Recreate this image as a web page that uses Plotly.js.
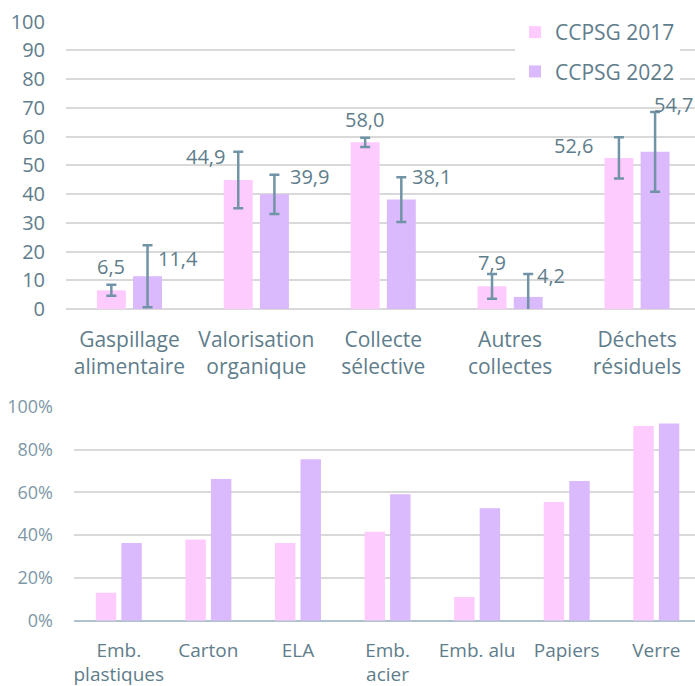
<!DOCTYPE html>
<html>
<head>
<meta charset="utf-8">
<script src="https://cdn.plot.ly/plotly-3.0.1.min.js"></script>
<style>
html,body{margin:0;padding:0;background:#fff;overflow:hidden;}
#chart{width:695px;height:686px;}
</style>
</head>
<body>
<div id="chart"></div>
<script>
// ---- Data ----
const seriesNames = ['CCPSG 2017', 'CCPSG 2022'];

const topCategories = ['Gaspillage<br>alimentaire', 'Valorisation<br>organique', 'Collecte<br>sélective', 'Autres<br>collectes', 'Déchets<br>résiduels'];
const top2017 = [6.5, 44.9, 58.0, 7.9, 52.6];
const top2022 = [11.4, 39.9, 38.1, 4.2, 54.7];
const topErr2017 = [1.9, 9.8, 1.6, 4.3, 7.2];
const topErr2022 = [10.8, 6.8, 7.8, 8.0, 13.9];
const topLabels2017 = ['6,5', '44,9', '58,0', '7,9', '52,6'];
const topLabels2022 = ['11,4', '39,9', '38,1', '4,2', '54,7'];
const topTicks = [0, 10, 20, 30, 40, 50, 60, 70, 80, 90, 100];

const bottomCategories = ['Emb.<br>plastiques', 'Carton', 'ELA', 'Emb.<br>acier', 'Emb. alu', 'Papiers', 'Verre'];
const bottom2017 = [0.131, 0.380, 0.363, 0.416, 0.111, 0.555, 0.910];
const bottom2022 = [0.363, 0.662, 0.754, 0.591, 0.525, 0.653, 0.922];
const bottomTicks = [0, 0.2, 0.4, 0.6, 0.8, 1.0];

// ---- Styles ----
const pink = '#FDCBFD';
const purple = '#DAB9FC';
const textColor = '#607D8B';
const errColor = '#7193A6';
const gridColor = '#D9D9D9';
const font = 'Open Sans, sans-serif';
// label offsets (px) relative to the top of each error bar: [dx, dy]
const labelOffsets2017 = [[0, -18], [-33, 5], [-1, -18], [0, -11], [-46, 8]];
const labelOffsets2022 = [[31, 13], [35, 2], [30, -1], [23, 2], [18, -7]];
const barShift = 18;

const traces = [
  {type: 'bar', name: seriesNames[0], x: topCategories, y: top2017, marker: {color: pink},
   error_y: {type: 'data', array: topErr2017, visible: true, color: errColor, thickness: 2.5, width: 5},
   xaxis: 'x', yaxis: 'y', legendgroup: 'a', hoverinfo: 'skip'},
  {type: 'bar', name: seriesNames[1], x: topCategories, y: top2022, marker: {color: purple},
   error_y: {type: 'data', array: topErr2022, visible: true, color: errColor, thickness: 2.5, width: 5},
   xaxis: 'x', yaxis: 'y', legendgroup: 'b', hoverinfo: 'skip'},
  {type: 'bar', name: seriesNames[0], x: bottomCategories, y: bottom2017, marker: {color: pink},
   xaxis: 'x2', yaxis: 'y2', showlegend: false, legendgroup: 'a', hoverinfo: 'skip'},
  {type: 'bar', name: seriesNames[1], x: bottomCategories, y: bottom2022, marker: {color: purple},
   xaxis: 'x2', yaxis: 'y2', showlegend: false, legendgroup: 'b', hoverinfo: 'skip'}
];

const annotations = [];
topCategories.forEach((c, i) => {
  [[top2017, topErr2017, topLabels2017, labelOffsets2017, -1],
   [top2022, topErr2022, topLabels2022, labelOffsets2022, 1]].forEach(([vals, errs, labs, offs, side]) => {
    annotations.push({
      x: c, y: vals[i] + errs[i], xref: 'x', yref: 'y',
      text: labs[i], showarrow: false,
      xanchor: 'center', yanchor: 'middle',
      xshift: side * barShift + offs[i][0], yshift: -offs[i][1],
      font: {family: font, size: 20, color: textColor}
    });
  });
});

const H = 686, W = 695;
const layout = {
  width: W, height: H,
  margin: {l: 0, r: 0, t: 0, b: 0},
  paper_bgcolor: '#fff', plot_bgcolor: 'rgba(0,0,0,0)',
  font: {family: font, color: textColor},
  barmode: 'group', bargap: 0.43, bargroupgap: 0.2,
  showlegend: true,
  legend: {
    x: 515 / W, xanchor: 'left', y: 1 - 12 / H, yanchor: 'top',
    bgcolor: '#fff', font: {family: font, size: 21, color: textColor},
    traceorder: 'grouped', tracegroupgap: 9
  },
  xaxis: {
    domain: [66 / W, 1], anchor: 'y', type: 'category',
    range: [-0.5, 4.457], showgrid: false, zeroline: false, showline: false,
    ticks: '', ticklabelstandoff: 16,
    tickfont: {family: font, size: 21, color: textColor}, fixedrange: true
  },
  yaxis: {
    domain: [(H - 309) / H, (H - 21.7) / H], anchor: 'x',
    range: [0, 100], tickvals: topTicks, ticktext: topTicks.map(String),
    showgrid: true, gridcolor: gridColor, gridwidth: 2,
    zeroline: true, zerolinecolor: gridColor, zerolinewidth: 2,
    ticks: '', ticklabelstandoff: 20,
    tickfont: {family: font, size: 20, color: textColor}, fixedrange: true
  },
  xaxis2: {
    domain: [74 / W, 1], anchor: 'y2', type: 'category',
    range: [-0.5, 6.432], showgrid: false, zeroline: false, showline: false,
    ticks: '', ticklabelstandoff: 16,
    tickfont: {family: font, size: 19, color: textColor}, fixedrange: true
  },
  yaxis2: {
    domain: [(H - 620.7) / H, (H - 406.7) / H], anchor: 'x2',
    range: [0, 1], tickvals: bottomTicks, ticktext: bottomTicks.map(v => Math.round(v * 100) + '%'),
    showgrid: true, gridcolor: gridColor, gridwidth: 2,
    zeroline: true, zerolinecolor: '#AFC1CD', zerolinewidth: 2,
    ticks: '', ticklabelstandoff: 20,
    tickfont: {family: font, size: 18, color: '#7E97A6'}, fixedrange: true
  },
  annotations: annotations
};

Plotly.newPlot('chart', traces, layout, {displayModeBar: false, staticPlot: true});
</script>
</body>
</html>
